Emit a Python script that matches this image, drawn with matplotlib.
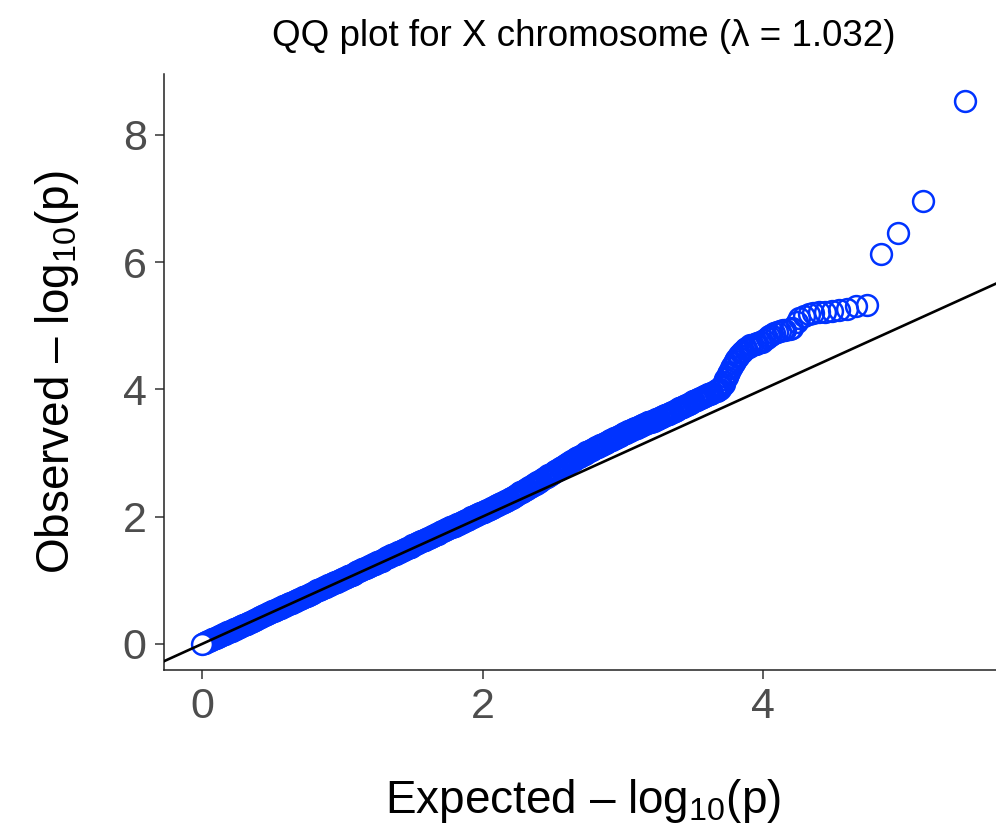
import matplotlib
matplotlib.use("Agg")
import matplotlib.pyplot as plt

# valeurs lues sur le graphique : -log10(p) attendu / observe
# bande dense (pas de 0.01 sur l'attendu)
band_expected = [
    0.00, 0.01, 0.02, 0.03, 0.04, 0.05, 0.06, 0.07, 0.08, 0.09,
    0.10, 0.11, 0.12, 0.13, 0.14, 0.15, 0.16, 0.17, 0.18, 0.19,
    0.20, 0.21, 0.22, 0.23, 0.24, 0.25, 0.26, 0.27, 0.28, 0.29,
    0.30, 0.31, 0.32, 0.33, 0.34, 0.35, 0.36, 0.37, 0.38, 0.39,
    0.40, 0.41, 0.42, 0.43, 0.44, 0.45, 0.46, 0.47, 0.48, 0.49,
    0.50, 0.51, 0.52, 0.53, 0.54, 0.55, 0.56, 0.57, 0.58, 0.59,
    0.60, 0.61, 0.62, 0.63, 0.64, 0.65, 0.66, 0.67, 0.68, 0.69,
    0.70, 0.71, 0.72, 0.73, 0.74, 0.75, 0.76, 0.77, 0.78, 0.79,
    0.80, 0.81, 0.82, 0.83, 0.84, 0.85, 0.86, 0.87, 0.88, 0.89,
    0.90, 0.91, 0.92, 0.93, 0.94, 0.95, 0.96, 0.97, 0.98, 0.99,
    1.00, 1.01, 1.02, 1.03, 1.04, 1.05, 1.06, 1.07, 1.08, 1.09,
    1.10, 1.11, 1.12, 1.13, 1.14, 1.15, 1.16, 1.17, 1.18, 1.19,
    1.20, 1.21, 1.22, 1.23, 1.24, 1.25, 1.26, 1.27, 1.28, 1.29,
    1.30, 1.31, 1.32, 1.33, 1.34, 1.35, 1.36, 1.37, 1.38, 1.39,
    1.40, 1.41, 1.42, 1.43, 1.44, 1.45, 1.46, 1.47, 1.48, 1.49,
    1.50, 1.51, 1.52, 1.53, 1.54, 1.55, 1.56, 1.57, 1.58, 1.59,
    1.60, 1.61, 1.62, 1.63, 1.64, 1.65, 1.66, 1.67, 1.68, 1.69,
    1.70, 1.71, 1.72, 1.73, 1.74, 1.75, 1.76, 1.77, 1.78, 1.79,
    1.80, 1.81, 1.82, 1.83, 1.84, 1.85, 1.86, 1.87, 1.88, 1.89,
    1.90, 1.91, 1.92, 1.93, 1.94, 1.95, 1.96, 1.97, 1.98, 1.99,
    2.00, 2.01, 2.02, 2.03, 2.04, 2.05, 2.06, 2.07, 2.08, 2.09,
    2.10, 2.11, 2.12, 2.13, 2.14, 2.15, 2.16, 2.17, 2.18, 2.19,
    2.20, 2.21, 2.22, 2.23, 2.24, 2.25, 2.26, 2.27, 2.28, 2.29,
    2.30, 2.31, 2.32, 2.33, 2.34, 2.35, 2.36, 2.37, 2.38, 2.39,
    2.40, 2.41, 2.42, 2.43, 2.44, 2.45, 2.46, 2.47, 2.48, 2.49,
    2.50, 2.51, 2.52, 2.53, 2.54, 2.55, 2.56, 2.57, 2.58, 2.59,
    2.60, 2.61, 2.62, 2.63, 2.64, 2.65, 2.66, 2.67, 2.68, 2.69,
    2.70, 2.71, 2.72, 2.73, 2.74, 2.75, 2.76, 2.77, 2.78, 2.79,
    2.80, 2.81, 2.82, 2.83, 2.84, 2.85, 2.86, 2.87, 2.88, 2.89,
    2.90, 2.91, 2.92, 2.93, 2.94, 2.95, 2.96, 2.97, 2.98, 2.99,
    3.00, 3.01, 3.02, 3.03, 3.04, 3.05, 3.06, 3.07, 3.08, 3.09,
    3.10, 3.11, 3.12, 3.13, 3.14, 3.15, 3.16, 3.17, 3.18, 3.19,
    3.20, 3.21, 3.22, 3.23, 3.24, 3.25, 3.26, 3.27, 3.28, 3.29,
    3.30, 3.31, 3.32, 3.33, 3.34, 3.35, 3.36, 3.37, 3.38, 3.39,
    3.40, 3.41, 3.42, 3.43, 3.44, 3.45, 3.46, 3.47, 3.48, 3.49,
    3.50, 3.51, 3.52, 3.53, 3.54, 3.55, 3.56, 3.57, 3.58, 3.59,
    3.60, 3.61, 3.62, 3.63, 3.64,
]
band_observed = [
    0.00, 0.01, 0.02, 0.03, 0.04, 0.05, 0.06, 0.07, 0.08, 0.09,
    0.10, 0.11, 0.12, 0.13, 0.14, 0.15, 0.16, 0.17, 0.18, 0.19,
    0.20, 0.21, 0.22, 0.23, 0.24, 0.25, 0.26, 0.27, 0.28, 0.29,
    0.30, 0.31, 0.32, 0.33, 0.34, 0.35, 0.36, 0.37, 0.38, 0.39,
    0.41, 0.42, 0.43, 0.44, 0.45, 0.46, 0.47, 0.48, 0.49, 0.50,
    0.51, 0.52, 0.53, 0.54, 0.55, 0.56, 0.57, 0.58, 0.59, 0.60,
    0.61, 0.62, 0.63, 0.64, 0.65, 0.66, 0.67, 0.68, 0.69, 0.70,
    0.71, 0.72, 0.73, 0.74, 0.75, 0.76, 0.77, 0.78, 0.79, 0.80,
    0.82, 0.83, 0.84, 0.85, 0.86, 0.87, 0.88, 0.89, 0.90, 0.91,
    0.92, 0.93, 0.94, 0.95, 0.96, 0.97, 0.98, 0.99, 1.00, 1.01,
    1.02, 1.03, 1.04, 1.05, 1.06, 1.07, 1.08, 1.09, 1.10, 1.11,
    1.13, 1.14, 1.15, 1.16, 1.17, 1.18, 1.19, 1.20, 1.21, 1.22,
    1.23, 1.24, 1.25, 1.26, 1.27, 1.28, 1.29, 1.30, 1.31, 1.32,
    1.34, 1.35, 1.36, 1.37, 1.38, 1.39, 1.40, 1.41, 1.42, 1.43,
    1.44, 1.45, 1.46, 1.47, 1.48, 1.49, 1.50, 1.51, 1.52, 1.53,
    1.55, 1.56, 1.57, 1.58, 1.59, 1.60, 1.61, 1.62, 1.63, 1.64,
    1.65, 1.66, 1.67, 1.68, 1.69, 1.70, 1.71, 1.72, 1.73, 1.74,
    1.76, 1.77, 1.78, 1.79, 1.80, 1.81, 1.82, 1.83, 1.84, 1.85,
    1.86, 1.87, 1.88, 1.89, 1.90, 1.91, 1.92, 1.93, 1.94, 1.95,
    1.97, 1.98, 1.99, 2.00, 2.01, 2.02, 2.03, 2.04, 2.05, 2.06,
    2.07, 2.08, 2.09, 2.10, 2.11, 2.12, 2.13, 2.14, 2.15, 2.16,
    2.18, 2.19, 2.20, 2.21, 2.22, 2.23, 2.24, 2.25, 2.26, 2.27,
    2.29, 2.30, 2.31, 2.33, 2.34, 2.35, 2.37, 2.38, 2.39, 2.40,
    2.42, 2.43, 2.44, 2.46, 2.47, 2.48, 2.50, 2.51, 2.52, 2.54,
    2.55, 2.56, 2.58, 2.59, 2.61, 2.62, 2.63, 2.65, 2.66, 2.67,
    2.69, 2.70, 2.72, 2.73, 2.74, 2.76, 2.77, 2.78, 2.80, 2.81,
    2.83, 2.84, 2.85, 2.87, 2.88, 2.89, 2.91, 2.92, 2.93, 2.94,
    2.96, 2.97, 2.98, 2.99, 3.01, 3.02, 3.03, 3.04, 3.05, 3.07,
    3.08, 3.09, 3.10, 3.11, 3.12, 3.13, 3.14, 3.15, 3.16, 3.17,
    3.19, 3.20, 3.21, 3.22, 3.23, 3.24, 3.25, 3.26, 3.27, 3.28,
    3.30, 3.31, 3.32, 3.33, 3.34, 3.35, 3.36, 3.37, 3.38, 3.39,
    3.40, 3.41, 3.42, 3.43, 3.44, 3.45, 3.46, 3.47, 3.48, 3.49,
    3.49, 3.50, 3.51, 3.52, 3.53, 3.54, 3.55, 3.56, 3.57, 3.58,
    3.59, 3.60, 3.61, 3.62, 3.63, 3.64, 3.65, 3.66, 3.67, 3.68,
    3.70, 3.71, 3.72, 3.73, 3.74, 3.75, 3.76, 3.77, 3.78, 3.79,
    3.81, 3.82, 3.83, 3.84, 3.85, 3.86, 3.87, 3.88, 3.89, 3.90,
    3.91, 3.92, 3.93, 3.94, 3.95,
]

# queue de distribution (60 plus petites p-values)
tail_expected = [
    5.44, 5.14, 4.96, 4.84, 4.74, 4.66, 4.60, 4.54, 4.49, 4.44,
    4.40, 4.36, 4.33, 4.29, 4.26, 4.24, 4.21, 4.19, 4.16, 4.14,
    4.12, 4.10, 4.08, 4.06, 4.04, 4.03, 4.01, 3.99, 3.98, 3.96,
    3.95, 3.94, 3.92, 3.91, 3.90, 3.88, 3.87, 3.86, 3.85, 3.84,
    3.83, 3.82, 3.81, 3.80, 3.79, 3.78, 3.77, 3.76, 3.75, 3.74,
    3.73, 3.72, 3.72, 3.71, 3.70, 3.69, 3.68, 3.68, 3.67, 3.66,
]
tail_observed = [
    8.53, 6.96, 6.45, 6.12, 5.33, 5.31, 5.27, 5.25, 5.23, 5.22,
    5.21, 5.20, 5.18, 5.15, 5.12, 5.06, 4.96, 4.95, 4.94, 4.93,
    4.92, 4.90, 4.88, 4.86, 4.84, 4.80, 4.77, 4.75, 4.74, 4.73,
    4.72, 4.71, 4.70, 4.69, 4.67, 4.65, 4.63, 4.61, 4.59, 4.57,
    4.54, 4.51, 4.48, 4.45, 4.41, 4.37, 4.33, 4.28, 4.24, 4.20,
    4.16, 4.12, 4.08, 4.05, 4.03, 4.01, 4.00, 3.99, 3.98, 3.97,
]

title = "QQ plot for X chromosome (\u03bb = 1.032)"
blue = '#0033FF'

plt.rcParams['font.family'] = ['Liberation Sans', 'DejaVu Sans']
plt.rcParams['mathtext.fontset'] = 'custom'
plt.rcParams['mathtext.rm'] = 'Liberation Sans'
plt.rcParams['mathtext.it'] = 'Liberation Sans'

fig = plt.figure(figsize=(9.96, 8.31), dpi=100)
ax = fig.add_axes([164/996, 161/831, (1003-164)/996, (670-74)/831])

# points tries du plus grand au plus petit
pts = sorted(zip(tail_expected + band_expected, tail_observed + band_observed),
             key=lambda p: -p[0])
xs = [p[0] for p in pts]
ys = [p[1] for p in pts]
ax.plot(xs[:-1], ys[:-1], linestyle='none', marker='o', ms=15, mew=1.8,
        mfc='none', mec=blue, zorder=2)
# le plus petit point, dessine en dernier avec un fond blanc
ax.plot(xs[-1:], ys[-1:], linestyle='none', marker='o', ms=15, mew=1.8,
        mfc='white', mec=blue, zorder=2)

ax.axline((0, 0), slope=1, color='black', lw=1.9, zorder=3)

ax.set_xlim(-0.272, 5.712)
ax.set_ylim(-0.41, 8.956)
ax.set_xticks([0, 2, 4])
ax.set_yticks([0, 2, 4, 6, 8])

for s in ['top', 'right']:
    ax.spines[s].set_visible(False)
for s in ['left', 'bottom']:
    ax.spines[s].set_color('#222222')
    ax.spines[s].set_linewidth(1.1)
ax.tick_params(axis='both', labelsize=31, labelcolor='#4D4D4D', color='#333333',
               length=6.5, width=1.1, pad=6)

ax.set_xlabel('Expected \u2013 log$_{10}$(p)', fontsize=33, labelpad=36)
ax.set_ylabel('Observed \u2013 log$_{10}$(p)', fontsize=33, labelpad=30)
ax.set_title(title, fontsize=26.5, pad=20)

fig.savefig('out.png', dpi=100)
